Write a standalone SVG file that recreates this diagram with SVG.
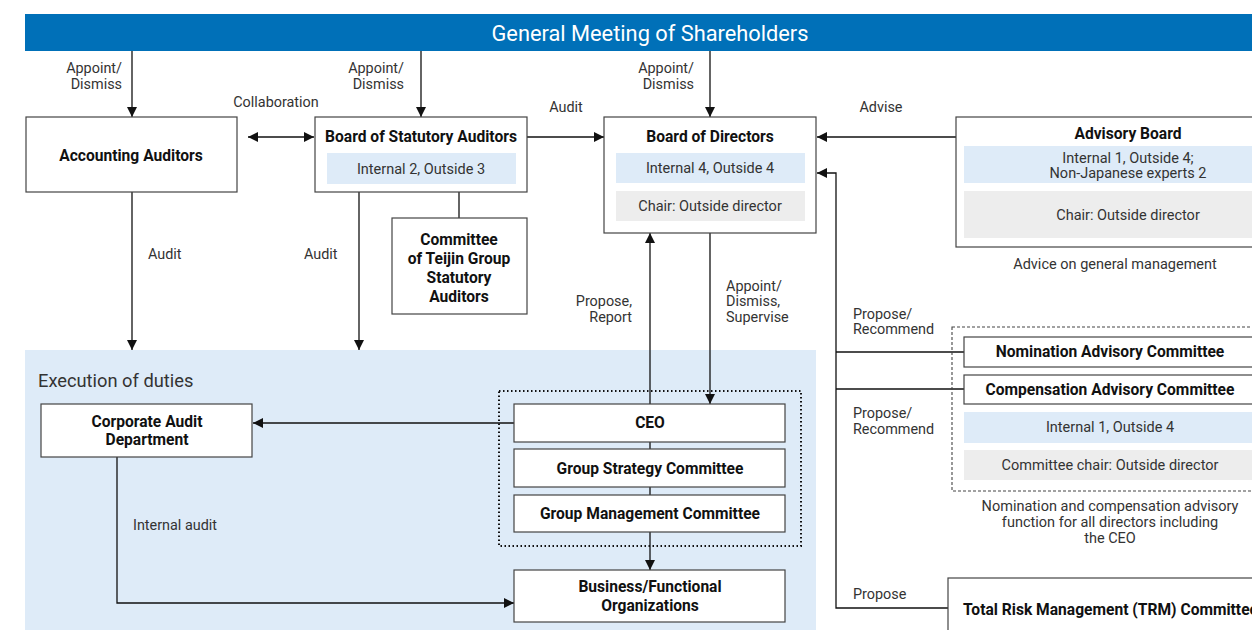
<svg xmlns="http://www.w3.org/2000/svg" width="1252" height="630" viewBox="0 0 1252 630">
<defs>
<marker id="ah" viewBox="0 0 10 10" refX="10" refY="5" markerWidth="10" markerHeight="10" markerUnits="userSpaceOnUse" orient="auto-start-reverse">
<path d="M0,0 L10,5 L0,10 z" fill="#111"/>
</marker>
</defs>
<style>
text{font-family:Roboto,"Liberation Sans",sans-serif;}
.lbl{font-size:14.4px;fill:#333;}
.t{font-size:15.6px;font-weight:bold;fill:#111;text-anchor:middle;}
.s{font-size:14.5px;fill:#333;text-anchor:middle;}
.box{fill:#fff;stroke:#444;stroke-width:1.2;}
.blue{fill:#deebf8;}
.gray{fill:#ededed;}
.ln{fill:none;stroke:#111;stroke-width:1.3;}
.arr{fill:none;stroke:#111;stroke-width:1.3;marker-end:url(#ah);}
.mid{text-anchor:middle;}
.end{text-anchor:end;}
.start{text-anchor:start;}
</style>
<rect width="1252" height="630" fill="#fff"/>

<g id="execution-area">
<rect x="25" y="350" width="791" height="280" fill="#deebf8"/>
<text x="38" y="387" font-size="18.3" fill="#333">Execution of duties</text>
</g>

<g id="shareholders">
<rect x="25" y="14" width="1227" height="37" fill="#0070b8"/>
<text x="650" y="41" font-size="21.8" fill="#fff" text-anchor="middle">General Meeting of Shareholders</text>
</g>

<g id="connectors">
<line class="arr" x1="132" y1="51" x2="132" y2="117"/>
<line class="arr" x1="421" y1="51" x2="421" y2="117"/>
<line class="arr" x1="710" y1="51" x2="710" y2="117"/>
<line class="arr" x1="248" y1="137" x2="314" y2="137" marker-start="url(#ah)"/>
<line class="arr" x1="527" y1="137" x2="604" y2="137"/>
<line class="arr" x1="956" y1="137" x2="817" y2="137"/>
<polyline class="arr" points="948,608 836,608 836,173 817,173"/>
<line class="ln" x1="836" y1="352" x2="964" y2="352"/>
<line class="ln" x1="836" y1="389" x2="964" y2="389"/>
<line class="arr" x1="132" y1="192" x2="132" y2="350"/>
<line class="arr" x1="359" y1="192" x2="359" y2="350"/>
<line class="ln" x1="459" y1="192" x2="459" y2="218"/>
<line class="arr" x1="650" y1="404" x2="650" y2="233"/>
<line class="arr" x1="710" y1="233" x2="710" y2="404"/>
<line class="ln" x1="650" y1="442" x2="650" y2="449"/>
<line class="ln" x1="650" y1="487" x2="650" y2="495"/>
<line class="arr" x1="650" y1="532" x2="650" y2="570"/>
<line class="arr" x1="514" y1="423" x2="253" y2="423"/>
<polyline class="arr" points="117,457 117,603 514,603"/>
<text class="lbl end" x="122" y="73">Appoint/</text>
<text class="lbl end" x="122" y="89">Dismiss</text>
<text class="lbl end" x="404" y="73">Appoint/</text>
<text class="lbl end" x="404" y="89">Dismiss</text>
<text class="lbl end" x="694" y="73">Appoint/</text>
<text class="lbl end" x="694" y="89">Dismiss</text>
<text class="lbl mid" x="276" y="107">Collaboration</text>
<text class="lbl mid" x="566" y="112">Audit</text>
<text class="lbl mid" x="881" y="112">Advise</text>
<text class="lbl" x="148" y="259">Audit</text>
<text class="lbl" x="304" y="259">Audit</text>
<text class="lbl end" x="632" y="306">Propose,</text>
<text class="lbl end" x="632" y="322">Report</text>
<text class="lbl" x="726" y="291">Appoint/</text>
<text class="lbl" x="726" y="306">Dismiss,</text>
<text class="lbl" x="726" y="322">Supervise</text>
<text class="lbl" x="853" y="319">Propose/</text>
<text class="lbl" x="853" y="334">Recommend</text>
<text class="lbl" x="853" y="418">Propose/</text>
<text class="lbl" x="853" y="434">Recommend</text>
<text class="lbl" x="853" y="599">Propose</text>
<text class="lbl" x="133" y="530">Internal audit</text>
</g>

<g id="accounting-auditors">
<rect class="box" x="26" y="117" width="211" height="75"/>
<text class="t" x="131" y="161" font-size="16">Accounting Auditors</text>
</g>

<g id="statutory-auditors">
<rect class="box" x="315" y="117" width="212" height="75"/>
<text class="t" x="421" y="142">Board of Statutory Auditors</text>
<rect class="blue" x="327" y="153" width="189" height="31"/>
<text class="s" x="421" y="174">Internal 2, Outside 3</text>
</g>

<g id="teijin-committee">
<rect class="box" x="392" y="218" width="135" height="96"/>
<text class="t" x="459" y="245">Committee</text>
<text class="t" x="459" y="264">of Teijin Group</text>
<text class="t" x="459" y="283">Statutory</text>
<text class="t" x="459" y="302">Auditors</text>
</g>

<g id="board-of-directors">
<rect class="box" x="604" y="117" width="212" height="116"/>
<text class="t" x="710" y="142">Board of Directors</text>
<rect class="blue" x="616" y="153" width="189" height="30"/>
<text class="s" x="710" y="173">Internal 4, Outside 4</text>
<rect class="gray" x="616" y="191" width="189" height="30"/>
<text class="s" x="710" y="211">Chair: Outside director</text>
</g>

<g id="advisory-board">
<rect class="box" x="956" y="117" width="310" height="130"/>
<text class="t" x="1128" y="139">Advisory Board</text>
<rect class="blue" x="964" y="146" width="300" height="37"/>
<text class="s" x="1128" y="163">Internal 1, Outside 4;</text>
<text class="s" x="1128" y="178">Non-Japanese experts 2</text>
<rect class="gray" x="964" y="191" width="300" height="47"/>
<text class="s" x="1128" y="220">Chair: Outside director</text>
<text class="s" x="1115" y="269">Advice on general management</text>
</g>

<g id="nomination-compensation">
<rect x="952" y="327" width="320" height="164" fill="none" stroke="#444" stroke-width="1.1" stroke-dasharray="3,2"/>
<rect class="box" x="964" y="337" width="300" height="30"/>
<text class="t" x="1110" y="357">Nomination Advisory Committee</text>
<rect class="box" x="964" y="375" width="300" height="29"/>
<text class="t" x="1110" y="395">Compensation Advisory Committee</text>
<rect class="blue" x="964" y="412" width="300" height="31"/>
<text class="s" x="1110" y="432">Internal 1, Outside 4</text>
<rect class="gray" x="964" y="450" width="300" height="30"/>
<text class="s" x="1110" y="470">Committee chair: Outside director</text>
<text class="s" x="1110" y="511">Nomination and compensation advisory</text>
<text class="s" x="1110" y="527">function for all directors including</text>
<text class="s" x="1110" y="543">the CEO</text>
</g>

<g id="trm-committee">
<rect class="box" x="948" y="578" width="330" height="70"/>
<text class="t start" x="963" y="615">Total Risk Management (TRM) Committee</text>
</g>

<g id="corporate-audit">
<rect class="box" x="41" y="404" width="211" height="53"/>
<text class="t" x="147" y="427">Corporate Audit</text>
<text class="t" x="147" y="445">Department</text>
</g>

<g id="executive-group">
<rect x="499" y="391" width="302" height="155" fill="none" stroke="#111" stroke-width="2" stroke-dasharray="1.5,2.5"/>
</g>

<g id="ceo">
<rect class="box" x="514" y="404" width="271" height="38"/>
<text class="t" x="650" y="428">CEO</text>
</g>

<g id="group-strategy">
<rect class="box" x="514" y="449" width="271" height="38"/>
<text class="t" x="650" y="474">Group Strategy Committee</text>
</g>

<g id="group-management">
<rect class="box" x="514" y="495" width="271" height="37"/>
<text class="t" x="650" y="519">Group Management Committee</text>
</g>

<g id="business-orgs">
<rect class="box" x="514" y="570" width="271" height="52"/>
<text class="t" x="650" y="592">Business/Functional</text>
<text class="t" x="650" y="611">Organizations</text>
</g>
</svg>
